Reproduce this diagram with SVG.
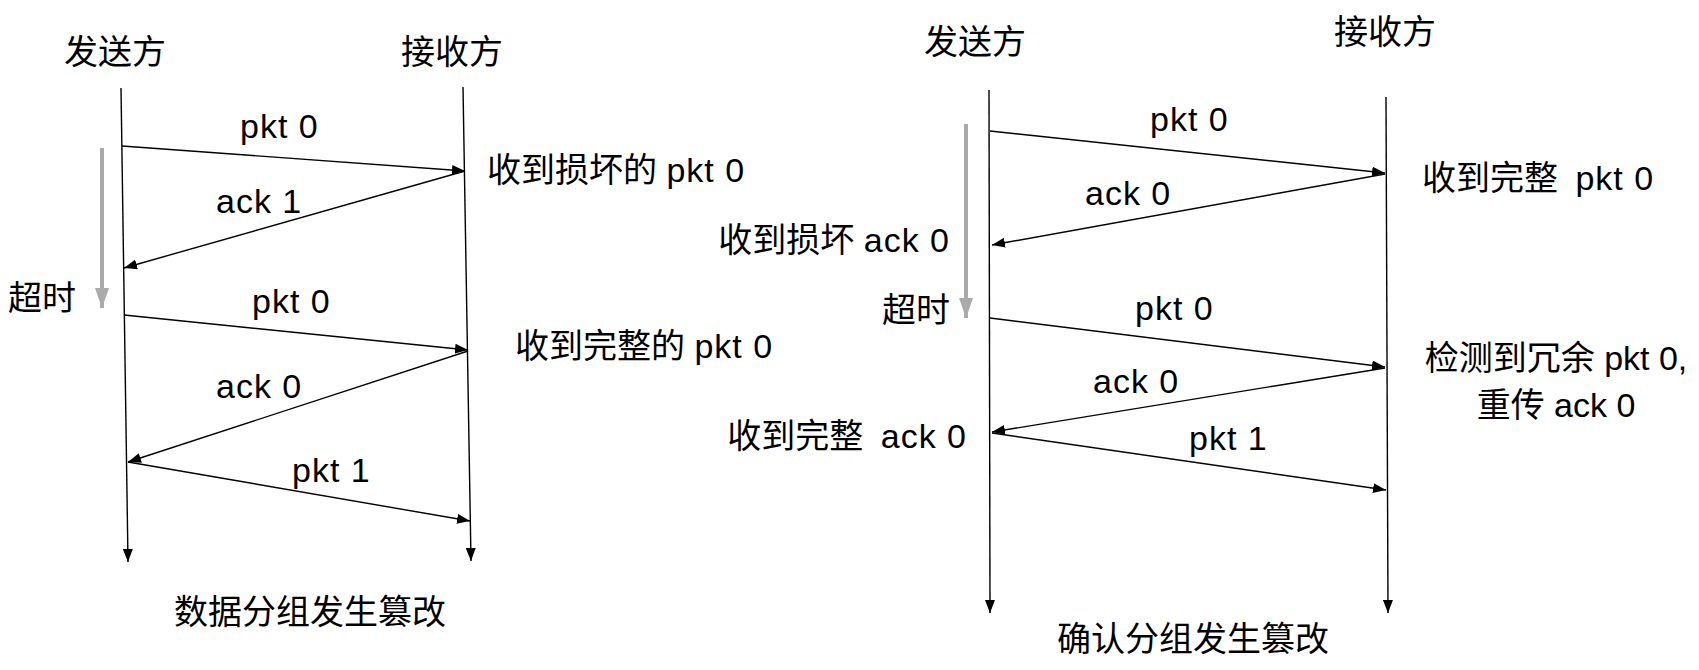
<svg xmlns="http://www.w3.org/2000/svg" width="1699" height="670" viewBox="0 0 1699 670">
<style>
  text { font-family: "Liberation Sans", "Noto Sans CJK SC", sans-serif; font-size: 34px; fill: #000; }
  .c { text-anchor: middle; }
  .e { text-anchor: end; }
  .lbl { letter-spacing: 1px; }
  .life { stroke: #000; stroke-width: 1.4; fill: none; marker-end: url(#ah); }
  .msg { stroke: #000; stroke-width: 1.4; fill: none; marker-end: url(#ah); }
  .gray { stroke: #aaaaaa; stroke-width: 4; fill: none; marker-end: url(#gh); }
</style>
<defs>
  <marker id="ah" viewBox="0 0 13 10" refX="13" refY="5" markerWidth="13" markerHeight="10" orient="auto" markerUnits="userSpaceOnUse">
    <path d="M0,0 L13,5 L0,10 z" fill="#000"/>
  </marker>
  <marker id="gh" viewBox="0 0 20 14" refX="20" refY="7" markerWidth="20" markerHeight="14" orient="auto" markerUnits="userSpaceOnUse">
    <path d="M0,0 L20,7 L0,14 z" fill="#aaaaaa"/>
  </marker>
</defs>
<rect width="1699" height="670" fill="#fff"/>

<!-- Left diagram: 数据分组发生篡改 -->
<g id="left-sender">
  <text class="c" x="115" y="64">发送方</text>
  <line class="life" x1="121" y1="88" x2="128" y2="562"/>
</g>
<g id="left-receiver">
  <text class="c" x="452" y="64">接收方</text>
  <line class="life" x1="463" y1="87" x2="471" y2="561"/>
</g>
<g id="left-timeout">
  <line class="gray" x1="102" y1="148" x2="102" y2="308"/>
  <text x="8" y="310">超时</text>
</g>
<g id="left-notes">
  <text x="487" y="182">收到损坏的 <tspan class="lbl">pkt 0</tspan></text>
  <text x="515" y="358">收到完整的 <tspan class="lbl">pkt 0</tspan></text>
</g>
<g id="left-caption">
  <text class="c" x="310" y="624">数据分组发生篡改</text>
</g>

<!-- Right diagram: 确认分组发生篡改 -->
<g id="right-sender">
  <text class="c" x="975" y="54">发送方</text>
  <line class="life" x1="989" y1="90" x2="990" y2="613"/>
</g>
<g id="right-receiver">
  <text class="c" x="1385" y="44">接收方</text>
  <line class="life" x1="1386" y1="97" x2="1388" y2="613"/>
</g>
<g id="right-timeout">
  <line class="gray" x1="966" y1="124" x2="966" y2="318"/>
  <text class="e" x="950" y="322">超时</text>
</g>
<g id="right-notes">
  <text class="e" x="950" y="252">收到损坏 <tspan class="lbl">ack 0</tspan></text>
  <text class="e" x="967" y="448">收到完整 <tspan dx="8" class="lbl">ack 0</tspan></text>
  <text x="1422" y="190">收到完整 <tspan dx="8" class="lbl">pkt 0</tspan></text>
  <text class="c" x="1556" y="370">检测到冗余 pkt 0,</text>
  <text class="c" x="1556" y="417">重传 ack 0</text>
</g>
<g id="right-caption">
  <text class="c" x="1193" y="651">确认分组发生篡改</text>
</g>

<g id="connectors">
  <line class="msg" x1="122" y1="146" x2="465" y2="171"/>
  <text class="lbl" x="240" y="138">pkt 0</text>
  <line class="msg" x1="465" y1="171" x2="124" y2="268"/>
  <text class="lbl" x="216" y="213">ack 1</text>
  <line class="msg" x1="124" y1="315" x2="468" y2="350"/>
  <text class="lbl" x="252" y="313">pkt 0</text>
  <line class="msg" x1="468" y1="351" x2="128" y2="462"/>
  <text class="lbl" x="216" y="398">ack 0</text>
  <line class="msg" x1="128" y1="462" x2="470" y2="521"/>
  <text class="lbl" x="292" y="482">pkt 1</text>

  <line class="msg" x1="990" y1="131" x2="1385" y2="173"/>
  <text class="lbl" x="1150" y="131">pkt 0</text>
  <line class="msg" x1="1385" y1="174" x2="992" y2="245"/>
  <text class="lbl" x="1085" y="205">ack 0</text>
  <line class="msg" x1="990" y1="318" x2="1385" y2="367"/>
  <text class="lbl" x="1135" y="320">pkt 0</text>
  <line class="msg" x1="1385" y1="368" x2="992" y2="432"/>
  <text class="lbl" x="1093" y="393">ack 0</text>
  <line class="msg" x1="992" y1="433" x2="1386" y2="490"/>
  <text class="lbl" x="1189" y="450">pkt 1</text>
</g>
</svg>
